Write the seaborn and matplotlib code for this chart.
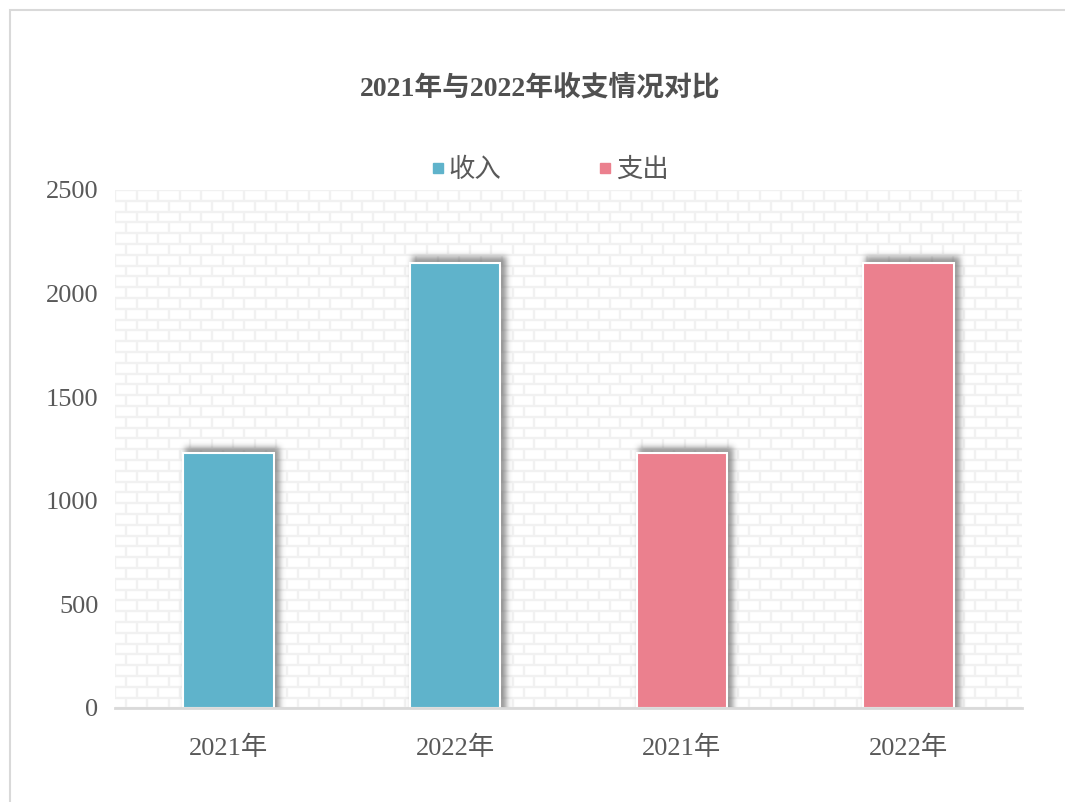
import math
import numpy as np
import pandas as pd
import matplotlib
matplotlib.use("Agg")
import matplotlib.pyplot as plt
from matplotlib.patches import Rectangle
from matplotlib.collections import LineCollection
from matplotlib.lines import Line2D
import seaborn as sns

# data
keys = ["收入2021", "收入2022", "支出2021", "支出2022"]
years = ["2021年", "2022年", "2021年", "2022年"]
kinds = ["收入", "收入", "支出", "支出"]
values = [1230, 2150, 1230, 2150]
colors = {"收入": "#5FB3CB", "支出": "#EB808E"}
title = "2021年与2022年收支情况对比"

sns.set_theme(style="white")
plt.rcParams['font.family'] = ['Liberation Serif', 'Noto Sans CJK SC', 'DejaVu Sans']

df = pd.DataFrame({"key": keys, "year": years, "kind": kinds, "value": values})

fig = plt.figure(figsize=(10.65, 8.02), dpi=100)
# outer frame
fig.patches.append(Rectangle((10 / 1065, -0.01), 1.05, 1 - 10 / 802 + 0.01,
                             transform=fig.transFigure, fill=False,
                             edgecolor="#D9D9D9", linewidth=1.5, zorder=0))

ax = fig.add_axes([115 / 1065, 94 / 802, 907 / 1065, 518 / 802])

sns.barplot(data=df, x="key", y="value", hue="kind", palette=colors, dodge=False,
            width=0.4, saturation=1, edgecolor="white", linewidth=1.5,
            legend=False, ax=ax, zorder=3)

ax.set_ylim(0, 2500)
ax.set_xlim(-0.5, 3.5)
ax.set_yticks(np.arange(0, 2501, 500))

# brick background (axes coords)
row_h = 10.8 / 518
brick_w = 21.5 / 907
segs = []
nrows = int(1 / row_h) + 1
for r in range(nrows + 1):
    y0 = 1 - r * row_h
    segs.append([(0, y0), (1, y0)])
    y1 = max(y0 - row_h, 0)
    off = 0 if r % 2 == 0 else brick_w / 2
    x = off
    while x <= 1:
        segs.append([(x, y0), (x, y1)])
        x += brick_w
ax.add_collection(LineCollection(segs, colors="#F1F1F1", linewidths=1.7,
                                 transform=ax.transAxes, zorder=0))

# soft blurred shadows behind bars, built from the bar geometry
fig.canvas.draw()
axbb = ax.get_window_extent()
W, H = int(round(axbb.width)), int(round(axbb.height))
xs = np.arange(W) + 0.5
ys = np.arange(H) + 0.5
verf = np.vectorize(math.erf)
sig = 4.0
alpha = np.zeros((H, W))
for p in ax.patches:
    if not isinstance(p, Rectangle) or p.get_height() <= 0:
        continue
    bb = p.get_window_extent()
    x0 = bb.x0 - axbb.x0 + 4 - 2
    x1 = bb.x1 - axbb.x0 + 4 + 2
    y0 = bb.y0 - axbb.y0 - 20
    y1 = bb.y1 - axbb.y0 + 4 + 2
    fx = 0.5 * (verf((xs - x0) / sig) - verf((xs - x1) / sig))
    fy = 0.5 * (verf((ys - y0) / sig) - verf((ys - y1) / sig))
    alpha = np.maximum(alpha, 0.6 * np.outer(fy, fx))
img = np.zeros((H, W, 4))
img[..., :3] = 0.33
img[..., 3] = alpha
ax.imshow(img, origin="lower", extent=(-0.5, 3.5, 0, 2500), aspect="auto",
          zorder=2, interpolation="bilinear")
ax.set_xlim(-0.5, 3.5)
ax.set_ylim(0, 2500)

ax.set_xticks(range(len(years)))
ax.set_xticklabels(years)
ax.set_xlabel("")
ax.set_ylabel("")
ax.tick_params(axis="both", length=0, labelsize=19, colors="#595959")
ax.tick_params(axis="x", pad=20)
ax.tick_params(axis="y", pad=12)
for s in ["top", "right", "left"]:
    ax.spines[s].set_visible(False)
ax.spines["bottom"].set_color("#D9D9D9")
ax.spines["bottom"].set_linewidth(2)
ax.spines["bottom"].set_zorder(4)

fig.text(0.507, 1 - 88 / 802, title, ha="center", va="center", fontsize=20,
         color="#505050", fontweight="bold")

handles = [Line2D([], [], marker="s", linestyle="", markersize=7.5, color=colors[k]) for k in ["收入", "支出"]]
fig.legend(handles, ["收入", "支出"], loc="center", bbox_to_anchor=(0.515, 1 - 170 / 802),
           ncol=2, frameon=False, fontsize=19, labelcolor="#595959",
           handlelength=0.7, handletextpad=0.05, columnspacing=3.6)

fig.savefig("out.png", dpi=100)
